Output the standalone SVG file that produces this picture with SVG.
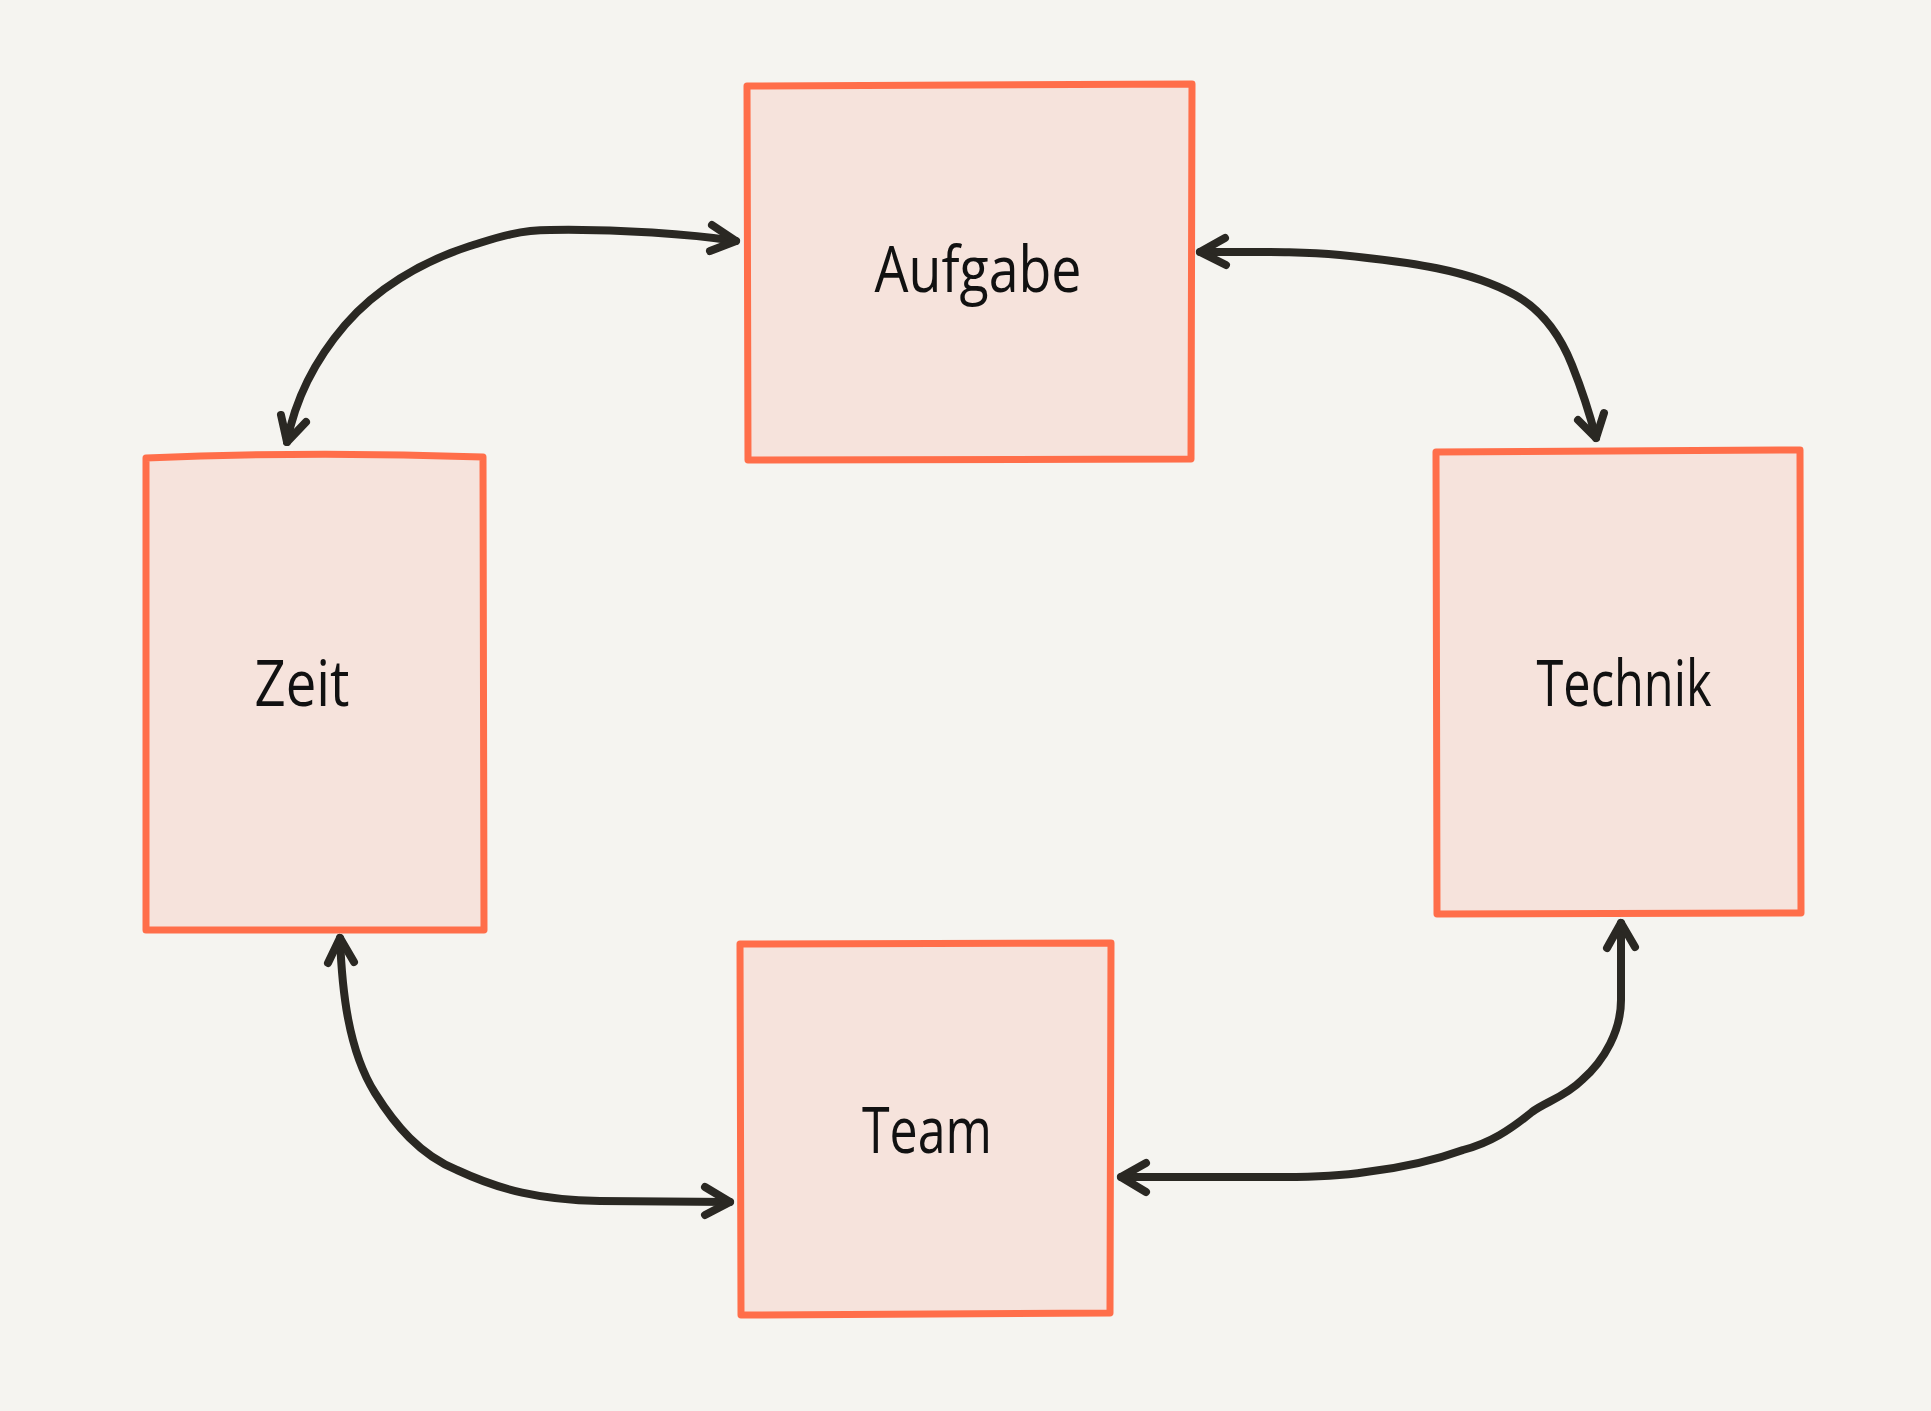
<svg xmlns="http://www.w3.org/2000/svg" width="1931" height="1411" viewBox="0 0 1931 1411">
<style>
.box{fill:#F6E3DC;stroke:#FF6E4A;stroke-width:7;stroke-linejoin:round;stroke-linecap:round}
.lbl{font-family:"Open Sans","Liberation Sans",sans-serif;font-weight:400;font-size:64px;fill:#111;text-anchor:middle}
.con{fill:none;stroke:#2A2823;stroke-width:8;stroke-linecap:round;stroke-linejoin:round}
</style>
<rect width="1931" height="1411" fill="#F5F4F0"/>
<g id="node-aufgabe">
<path class="box" d="M747 86 L1192 84 L1191 459 L748 460 Z"/>
<text class="lbl" x="978" y="292" textLength="207" lengthAdjust="spacingAndGlyphs">Aufgabe</text>
</g>
<g id="node-zeit">
<path class="box" d="M146 458 Q310 451 483 457 L484 930 L146 930 Z"/>
<text class="lbl" x="302" y="706" textLength="95" lengthAdjust="spacingAndGlyphs">Zeit</text>
</g>
<g id="node-technik">
<path class="box" d="M1436 452 L1800 450 L1801 913 L1437 914 Z"/>
<text class="lbl" x="1624" y="706" textLength="175" lengthAdjust="spacingAndGlyphs">Technik</text>
</g>
<g id="node-team">
<path class="box" d="M740 944 L1111 943 L1110 1313 L741 1315 Z"/>
<text class="lbl" x="927" y="1153" textLength="130" lengthAdjust="spacingAndGlyphs">Team</text>
</g>
<g id="connectors">
<path class="con" d="M736 241 C690 234 620 229 550 230 C515 230 490 240 470 246 C420 262 375 290 345 325 C315 360 295 400 287 442"/>
<path class="con" d="M712 225 L736 241 L710 251 M281 415 L287 442 L306 422"/>
<path class="con" d="M1200 252 C1260 252 1300 251 1340 255 C1410 262 1470 270 1515 295 C1545 312 1562 340 1572 365 C1582 390 1590 415 1596 438"/>
<path class="con" d="M1225 238 L1200 252 L1226 265 M1578 420 L1596 438 L1604 413"/>
<path class="con" d="M340 938 C342 990 348 1050 375 1093 C395 1125 420 1155 457 1170 C500 1190 540 1200 600 1201 L730 1202"/>
<path class="con" d="M328 963 L340 938 L354 962 M705 1187 L730 1202 L705 1215"/>
<path class="con" d="M1621 923 L1621 1000 C1621 1030 1605 1060 1582 1080 C1565 1097 1545 1102 1532 1112 C1510 1130 1490 1143 1463 1150 C1430 1162 1400 1168 1366 1172 C1340 1176 1310 1177 1284 1177 L1121 1177"/>
<path class="con" d="M1607 948 L1621 923 L1635 947 M1146 1163 L1121 1177 L1146 1192"/>
</g>
</svg>
